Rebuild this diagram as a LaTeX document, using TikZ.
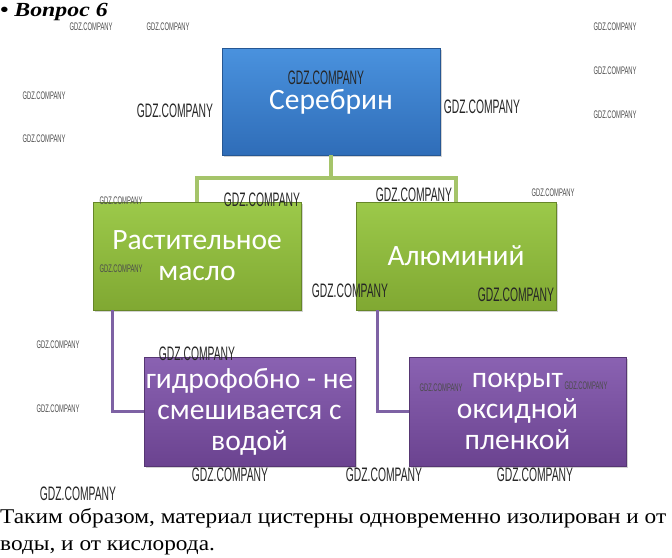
\documentclass[tikz,border=0pt]{standalone}
\usepackage{fontspec}
\setmainfont{Liberation Serif}
\newfontfamily\boxfont{Carlito}
\newfontfamily\wmfont[FakeStretch=0.53]{Liberation Sans}
\newfontfamily\widefont[FakeStretch=1.11]{Liberation Serif}
\newfontfamily\titlefont[FakeStretch=1.19]{Liberation Serif}
\usetikzlibrary{shadows}
\definecolor{bluetop}{HTML}{4A92DE}
\definecolor{bluebot}{HTML}{2F6DB8}
\definecolor{greentop}{HTML}{9CC94A}
\definecolor{greenbot}{HTML}{80A832}
\definecolor{purpletop}{HTML}{8A62B2}
\definecolor{purplebot}{HTML}{6B4390}
\definecolor{greenline}{HTML}{A5C46A}
\definecolor{purpleline}{HTML}{7E62A4}
\tikzset{
  card/.style={rectangle, inner sep=0pt, align=center, text=white,
    font=\boxfont\fontsize{29.5}{31}\selectfont,
    drop shadow={shadow xshift=1.5pt, shadow yshift=-2pt, opacity=0.35}},
  bluecard/.style={card, top color=bluetop, bottom color=bluebot, draw=bluebot!80!black, line width=0.6pt},
  greencard/.style={card, top color=greentop, bottom color=greenbot, draw=greenbot!80!black, line width=0.6pt},
  purplecard/.style={card, top color=purpletop, bottom color=purplebot, draw=purplebot!80!black, line width=0.6pt},
  gline/.style={draw=greenline, line width=3.5pt},
  pline/.style={draw=purpleline, line width=3pt},
  wms/.style={font=\wmfont\fontsize{11}{11}\selectfont, text=black!70, inner sep=0pt},
  wml/.style={font=\wmfont\fontsize{19.5}{19.5}\selectfont, text=black!85, inner sep=0pt},
  para/.style={font=\widefont\fontsize{21}{24}\selectfont, anchor=base west, inner sep=0pt}
}
\begin{document}
\begin{tikzpicture}[x=1pt,y=-1pt]
\useasboundingbox (0,0) rectangle (672,557);

% boxes
\node[bluecard, minimum width=218pt, minimum height=107pt] (ser) at (331,101.5) {Серебрин};
\node[greencard, minimum width=208pt, minimum height=108pt] (oil) at (197,256) {Растительное\\масло};
\node[greencard, minimum width=200pt, minimum height=108pt] (alu) at (456,256) {Алюминий};
\node[purplecard, minimum width=211pt, minimum height=109pt] (hyd) at (249.5,411.5) {гидрофобно - не\\смешивается с\\водой};
\node[purplecard, minimum width=217pt, minimum height=109pt] (oxi) at (517.5,411.5) {покрыт\\оксидной\\пленкой};

% connectors
\coordinate (jn) at (331,178);
\draw[gline] (ser.south) -- (jn);
\draw[gline] (jn) -| (oil.north);
\draw[gline] (jn) -| (alu.north);
\draw[pline] (oil.south -| 112,0) |- (hyd.west);
\draw[pline] (alu.south -| 377,0) |- (oxi.west);

% title and paragraph
\node[font=\titlefont\bfseries\itshape\fontsize{20}{24}\selectfont, anchor=base west, inner sep=0pt] (title) at (0,16) {• Вопрос 6};
\node[para] (p1) at (0,523) {Таким образом, материал цистерны одновременно изолирован и от};
\node[para] (p2) at (0,550) {воды, и от кислорода.};

% watermarks
\node[wms] (w1) at (91,27) {GDZ.COMPANY};
\node[wms] (w2) at (168,27) {GDZ.COMPANY};
\node[wms] (w3) at (615,27) {GDZ.COMPANY};
\node[wms] (w4) at (615,71) {GDZ.COMPANY};
\node[wms] (w5) at (44,96) {GDZ.COMPANY};
\node[wms] (w6) at (615,115) {GDZ.COMPANY};
\node[wms] (w7) at (44,139) {GDZ.COMPANY};
\node[wms] (w8) at (121,201) {GDZ.COMPANY};
\node[wms] (w9) at (121,269) {GDZ.COMPANY};
\node[wms] (w10) at (553,193) {GDZ.COMPANY};
\node[wms] (w11) at (58,345) {GDZ.COMPANY};
\node[wms] (w12) at (58,409) {GDZ.COMPANY};
\node[wms] (w13) at (441,388) {GDZ.COMPANY};
\node[wms] (w14) at (586,386) {GDZ.COMPANY};
\node[wml] (w15) at (326,78) {GDZ.COMPANY};
\node[wml] (w16) at (175,111) {GDZ.COMPANY};
\node[wml] (w17) at (482,107) {GDZ.COMPANY};
\node[wml] (w18) at (262,200) {GDZ.COMPANY};
\node[wml] (w19) at (414,195) {GDZ.COMPANY};
\node[wml] (w20) at (350,291) {GDZ.COMPANY};
\node[wml] (w21) at (516,295) {GDZ.COMPANY};
\node[wml] (w22) at (197,354) {GDZ.COMPANY};
\node[wml] (w23) at (230,475) {GDZ.COMPANY};
\node[wml] (w24) at (384,475) {GDZ.COMPANY};
\node[wml] (w25) at (535,475) {GDZ.COMPANY};
\node[wml] (w26) at (78,494) {GDZ.COMPANY};
\end{tikzpicture}
\end{document}
